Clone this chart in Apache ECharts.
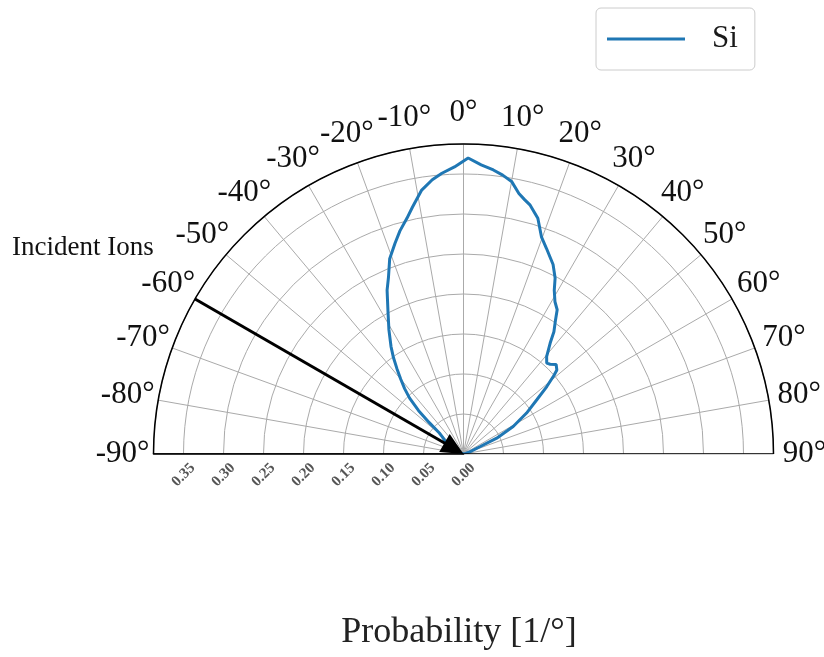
<!DOCTYPE html>
<html>
<head>
<meta charset="utf-8">
<script src="https://cdn.jsdelivr.net/npm/echarts@6/dist/echarts.min.js"></script>
<style>
  html, body { margin: 0; padding: 0; background: #ffffff; }
  #chart { width: 824px; height: 657px; }
</style>
</head>
<body>
<div id="chart"></div>
<script>
// Angular distribution of sputtered Si (angle in degrees, probability per degree)
const siAngle = [
  -90, -80, -70, -64, -60, -55, -51, -49, -47.5, -46, -44, -42, -40, -38, -36, -34,
  -31, -28, -25, -23, -20.7, -18, -15.9, -13.5, -11.7, -9, -6.5, -4.4, -1.8, 0.9,
  3.5, 6, 8, 10, 12, 13.5, 15, 17.5, 19.8, 22, 25.3, 27.5, 29, 31, 33, 34.5, 36.5,
  38, 40.5, 42.5, 44, 46, 48, 49, 51, 53.5, 57, 61, 64.5, 66, 70, 75, 80, 90
];
const siProb = [
  0, 0.001, 0.004, 0.012, 0.020, 0.028, 0.034, 0.040, 0.058, 0.078, 0.097, 0.110, 0.122, 0.135, 0.149, 0.162,
  0.181, 0.201, 0.226, 0.240, 0.261, 0.277, 0.290, 0.303, 0.315, 0.334, 0.345, 0.352, 0.359, 0.370,
  0.362, 0.357, 0.352, 0.346, 0.333, 0.327, 0.322, 0.309, 0.288, 0.277, 0.262, 0.248, 0.234, 0.222, 0.215, 0.203, 0.190,
  0.176, 0.160, 0.154, 0.156, 0.161, 0.157, 0.150, 0.134, 0.114, 0.094, 0.071, 0.046, 0.023, 0.009, 0.003, 0.001, 0
];

// Angular tick labels (degrees)
const angleTicks = [-90, -80, -70, -60, -50, -40, -30, -20, -10, 0, 10, 20, 30, 40, 50, 60, 70, 80, 90];

// Axis settings
const angleMin = -90;
const angleMax = 90;
const angleStep = 10;
const R_MAX = 0.3875;
const radiusStep = 0.05;
const radiusLabelMax = 0.35;
const angleLabelRadius = R_MAX * 1.1;

// Incident beam direction and arrow head size
const INCIDENT_ANGLE = -60;
const POLAR_RADIUS_PX = 310;
const ARROW_HEAD = [21, 22];
// the head is centred on the end point, so stop the shaft half a head short of the origin
const arrowEndR = R_MAX * (ARROW_HEAD[1] / 2) / POLAR_RADIUS_PX;

const SERIF = '"Liberation Serif", "DejaVu Serif", serif';

const chart = echarts.init(document.getElementById('chart'), null, { renderer: 'canvas' });

const siData = siAngle.map((a, i) => [siProb[i], a]);
// Diameter that closes the half disc along the bottom
const baseData = [[R_MAX, angleMin], [0, 0], [R_MAX, angleMax]];
// Anchor points for the angular tick labels, just outside the rim
const angleLabelData = angleTicks.map(a => [angleLabelRadius, a]);

chart.setOption({
  backgroundColor: '#ffffff',
  animation: false,
  polar: {
    center: [463.5, 454],
    radius: POLAR_RADIUS_PX
  },
  angleAxis: {
    type: 'value',
    min: angleMin,
    max: angleMax,
    interval: angleStep,
    startAngle: 180,
    endAngle: 0,
    clockwise: true,
    axisLine: { show: true, lineStyle: { color: '#000000', width: 1.5 } },
    axisTick: { show: false },
    axisLabel: { show: false },
    splitLine: { show: true, lineStyle: { color: '#aaaaaa', width: 1 } }
  },
  radiusAxis: {
    type: 'value',
    min: 0,
    max: R_MAX,
    interval: radiusStep,
    axisLine: { show: true, lineStyle: { color: '#000000', width: 1.5 } },
    axisTick: { show: false },
    axisLabel: {
      rotate: 45,
      margin: 21,
      align: 'center',
      verticalAlign: 'middle',
      formatter: v => (v > radiusLabelMax + 1e-9 ? '' : v.toFixed(2)),
      fontFamily: SERIF,
      fontSize: 15,
      fontWeight: 'bold',
      color: '#555555'
    },
    splitLine: { show: true, lineStyle: { color: '#aaaaaa', width: 1 } }
  },
  legend: {
    data: ['Si'],
    left: 596,
    top: 8,
    icon: 'rect',
    itemWidth: 78,
    itemHeight: 3,
    padding: [14, 17, 14, 11],
    borderColor: '#cccccc',
    borderWidth: 1,
    borderRadius: 5,
    textStyle: {
      fontFamily: SERIF,
      fontSize: 31,
      lineHeight: 34,
      color: '#1a1a1a',
      padding: [0, 0, 0, 22]
    }
  },
  graphic: [
    {
      type: 'text',
      x: 12,
      y: 248,
      style: {
        text: 'Incident Ions',
        font: '27px ' + SERIF,
        fill: '#111111',
        align: 'left',
        verticalAlign: 'middle'
      }
    },
    {
      type: 'text',
      x: 459,
      y: 633,
      style: {
        text: 'Probability [1/°]',
        font: '36px ' + SERIF,
        fill: '#222222',
        align: 'center',
        verticalAlign: 'middle'
      }
    }
  ],
  series: [
    {
      name: 'Si',
      type: 'line',
      coordinateSystem: 'polar',
      data: siData,
      showSymbol: false,
      smooth: false,
      lineStyle: { color: '#1f77b4', width: 3 },
      itemStyle: { color: '#1f77b4' },
      z: 4
    },
    {
      name: 'frame',
      type: 'line',
      coordinateSystem: 'polar',
      data: baseData,
      showSymbol: false,
      silent: true,
      lineStyle: { color: '#000000', width: 1.5 },
      z: 5,
      markLine: {
        silent: true,
        symbol: ['none', 'triangle'],
        symbolSize: ARROW_HEAD,
        label: { show: false },
        lineStyle: { color: '#000000', width: 3, type: 'solid' },
        itemStyle: { color: '#000000' },
        data: [[{ coord: [R_MAX, INCIDENT_ANGLE] }, { coord: [arrowEndR, INCIDENT_ANGLE] }]]
      }
    },
    {
      name: 'angleLabels',
      type: 'scatter',
      coordinateSystem: 'polar',
      data: angleLabelData,
      symbolSize: 0,
      silent: true,
      clip: false,
      itemStyle: { opacity: 1 },
      label: {
        show: true,
        position: 'inside',
        formatter: p => p.value[1] + '°',
        fontFamily: SERIF,
        fontSize: 31,
        color: '#111111',
        opacity: 1,
        textBorderWidth: 0
      },
      z: 6
    }
  ]
});
</script>
</body>
</html>
